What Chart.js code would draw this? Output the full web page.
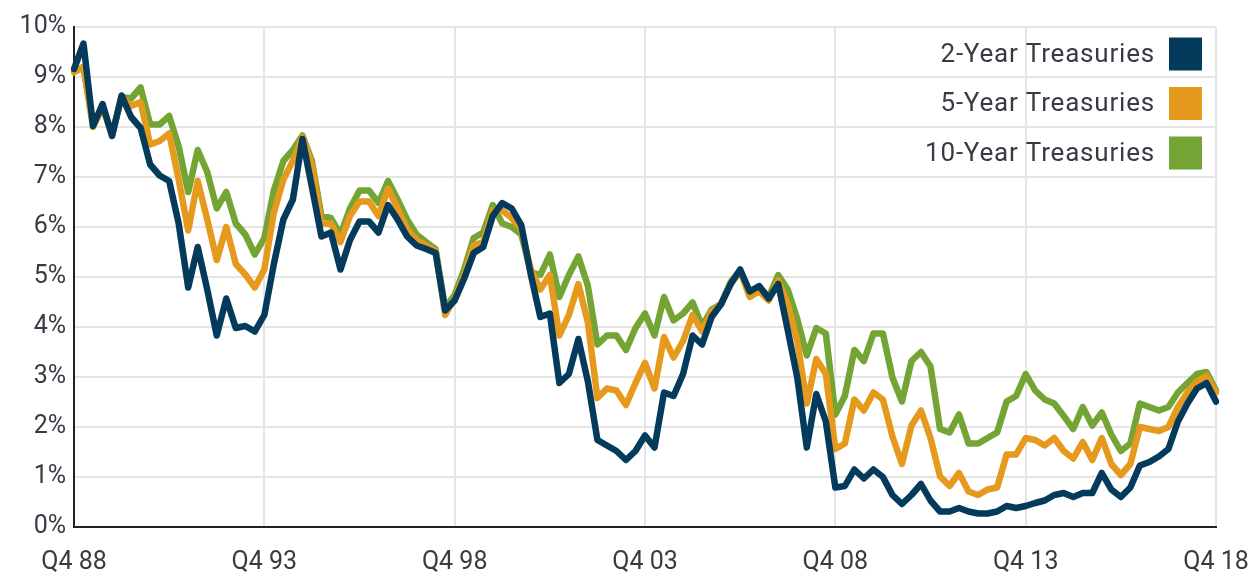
<!DOCTYPE html>
<html>
<head>
<meta charset="utf-8">
<title>Treasury Yields</title>
<script src="https://cdn.jsdelivr.net/npm/chart.js@4.4.1/dist/chart.umd.min.js"></script>
<style>
  html, body { margin: 0; padding: 0; background: #fff; }
  #wrap { width: 1251px; height: 576px; position: relative; }
</style>
</head>
<body>
<div id="wrap"><canvas id="chart"></canvas></div>
<script>
// Quarter labels, Q4 88 .. Q4 18
const quarters = ['Q4 88'];
for (let y = 89; y <= 118; y++) {
    const yy = String(y % 100).padStart(2, '0');
    ['Q1', 'Q2', 'Q3', 'Q4'].forEach(q => quarters.push(q + ' ' + yy));
}
const yTicks = [0, 1, 2, 3, 4, 5, 6, 7, 8, 9, 10];

const twoYear = [
    9.16, 9.67, 8.02, 8.46, 7.82, 8.63, 8.20, 7.98, 7.25, 7.03,
    6.92, 6.07, 4.79, 5.60, 4.75, 3.83, 4.57, 3.98, 4.02, 3.91,
    4.24, 5.26, 6.15, 6.55, 7.76, 6.80, 5.81, 5.89, 5.15, 5.74,
    6.11, 6.11, 5.89, 6.44, 6.15, 5.81, 5.63, 5.56, 5.48, 4.33,
    4.53, 4.97, 5.48, 5.60, 6.22, 6.48, 6.37, 6.04, 5.05, 4.20,
    4.27, 2.88, 3.06, 3.76, 2.91, 1.74, 1.63, 1.52, 1.34, 1.52,
    1.83, 1.59, 2.69, 2.62, 3.06, 3.83, 3.65, 4.20, 4.46, 4.86,
    5.15, 4.71, 4.82, 4.57, 4.86, 3.94, 2.99, 1.59, 2.66, 2.11,
    0.79, 0.82, 1.15, 0.97, 1.15, 1.00, 0.64, 0.46, 0.64, 0.86,
    0.53, 0.31, 0.31, 0.38, 0.31, 0.27, 0.27, 0.31, 0.42, 0.38,
    0.42, 0.48, 0.53, 0.64, 0.68, 0.60, 0.68, 0.68, 1.08, 0.75,
    0.60, 0.79, 1.23, 1.30, 1.41, 1.56, 2.11, 2.47, 2.77, 2.88,
    2.51
];

const fiveYear = [
    9.10, 9.20, 8.00, 8.40, 7.85, 8.60, 8.42, 8.50, 7.65, 7.72,
    7.87, 6.95, 5.93, 6.92, 6.15, 5.34, 6.00, 5.26, 5.05, 4.79,
    5.15, 6.29, 6.95, 7.32, 7.80, 7.25, 6.07, 6.07, 5.70, 6.22,
    6.51, 6.51, 6.22, 6.77, 6.37, 5.96, 5.74, 5.63, 5.52, 4.24,
    4.57, 5.04, 5.63, 5.70, 6.33, 6.33, 6.18, 5.96, 5.15, 4.75,
    5.04, 3.83, 4.24, 4.86, 4.09, 2.58, 2.77, 2.73, 2.44, 2.88,
    3.28, 2.77, 3.80, 3.39, 3.72, 4.24, 3.91, 4.31, 4.46, 4.86,
    5.12, 4.60, 4.71, 4.53, 4.93, 4.46, 3.72, 2.47, 3.36, 3.06,
    1.56, 1.67, 2.55, 2.33, 2.69, 2.55, 1.81, 1.26, 2.03, 2.33,
    1.78, 1.01, 0.82, 1.08, 0.71, 0.64, 0.75, 0.79, 1.45, 1.45,
    1.78, 1.74, 1.63, 1.78, 1.52, 1.37, 1.70, 1.34, 1.78, 1.26,
    1.04, 1.26, 2.00, 1.96, 1.92, 2.00, 2.40, 2.69, 2.91, 3.02,
    2.69
];

const tenYear = [
    9.10, 9.20, 8.05, 8.40, 7.85, 8.60, 8.57, 8.79, 8.05, 8.05,
    8.22, 7.61, 6.70, 7.54, 7.10, 6.37, 6.70, 6.07, 5.85, 5.45,
    5.78, 6.73, 7.32, 7.54, 7.83, 7.32, 6.22, 6.18, 5.85, 6.37,
    6.73, 6.73, 6.48, 6.92, 6.55, 6.15, 5.85, 5.70, 5.56, 4.38,
    4.64, 5.15, 5.78, 5.89, 6.44, 6.07, 6.00, 5.85, 5.10, 5.04,
    5.45, 4.60, 5.04, 5.41, 4.82, 3.65, 3.83, 3.83, 3.54, 3.98,
    4.27, 3.83, 4.60, 4.13, 4.27, 4.49, 4.02, 4.35, 4.46, 4.90,
    5.12, 4.68, 4.79, 4.60, 5.04, 4.75, 4.16, 3.43, 3.98, 3.87,
    2.25, 2.62, 3.54, 3.32, 3.87, 3.87, 2.99, 2.51, 3.32, 3.50,
    3.21, 1.96, 1.89, 2.25, 1.67, 1.67, 1.78, 1.89, 2.51, 2.62,
    3.06, 2.73, 2.55, 2.47, 2.22, 1.96, 2.40, 2.03, 2.29, 1.85,
    1.52, 1.67, 2.47, 2.40, 2.33, 2.40, 2.69, 2.88, 3.06, 3.10,
    2.73
];

const NAVY = '#043a5b';
const ORANGE = '#e5991d';
const GREEN = '#74a534';
const TEXT = '#3a3a44';
const FONT = 'Roboto, "DejaVu Sans", sans-serif';

// legend drawn inside the plot, text to the left of the swatch
const boxLegend = {
    id: 'boxLegend',
    afterDraw(chart) {
        const { ctx, chartArea } = chart;
        const size = 33;
        const boxRight = chartArea.right - 14;
        ctx.save();
        ctx.font = '26px ' + FONT;
        ctx.letterSpacing = '0.8px';
        ctx.textAlign = 'right';
        ctx.textBaseline = 'middle';
        chart.data.datasets.forEach((ds, i) => {
            const cy = chartArea.top + 27 + i * 49.5;
            ctx.fillStyle = ds.borderColor;
            ctx.fillRect(boxRight - size, cy - size / 2, size, size);
            ctx.fillStyle = TEXT;
            ctx.fillText(ds.label, boxRight - size - 14, cy + 1);
        });
        ctx.restore();
    }
};

const common = {
    fill: false,
    borderWidth: 6.5,
    pointRadius: 0,
    tension: 0,
    borderJoinStyle: 'round',
    borderCapStyle: 'round'
};

new Chart(document.getElementById('chart'), {
    type: 'line',
    data: {
        labels: quarters,
        datasets: [
            { ...common, label: '2-Year Treasuries', data: twoYear, borderColor: NAVY },
            { ...common, label: '5-Year Treasuries', data: fiveYear, borderColor: ORANGE },
            { ...common, label: '10-Year Treasuries', data: tenYear, borderColor: GREEN }
        ]
    },
    options: {
        responsive: true,
        maintainAspectRatio: false,
        animation: false,
        layout: { padding: { left: 0, right: 35, top: 27, bottom: 0 } },
        plugins: {
            legend: { display: false },
            tooltip: { enabled: false }
        },
        scales: {
            x: {
                type: 'category',
                offset: false,
                afterFit: (s) => { s.height = 49; s.paddingLeft = 0; s.paddingRight = 0; },
                grid: { color: '#e4e4e4', lineWidth: 2, drawTicks: false },
                border: { display: true, color: '#222', width: 2 },
                ticks: {
                    autoSkip: false,
                    maxRotation: 0,
                    padding: 21,
                    color: TEXT,
                    font: { family: FONT, size: 25 },
                    callback: function(val, idx) {
                        return idx % 20 === 0 ? this.getLabelForValue(val) : null;
                    }
                }
            },
            y: {
                min: yTicks[0],
                max: yTicks[yTicks.length - 1],
                afterFit: (s) => { s.width = 74; s.paddingTop = 0; s.paddingBottom = 0; },
                afterBuildTicks: (s) => { s.ticks = yTicks.map(v => ({ value: v })); },
                grid: { color: '#e4e4e4', lineWidth: 2, drawTicks: false },
                border: { display: true, color: '#222', width: 2 },
                ticks: {
                    padding: 8,
                    color: TEXT,
                    font: { family: FONT, size: 25 },
                    callback: (v) => v + '%'
                }
            }
        }
    },
    plugins: [boxLegend]
});
</script>
</body>
</html>
